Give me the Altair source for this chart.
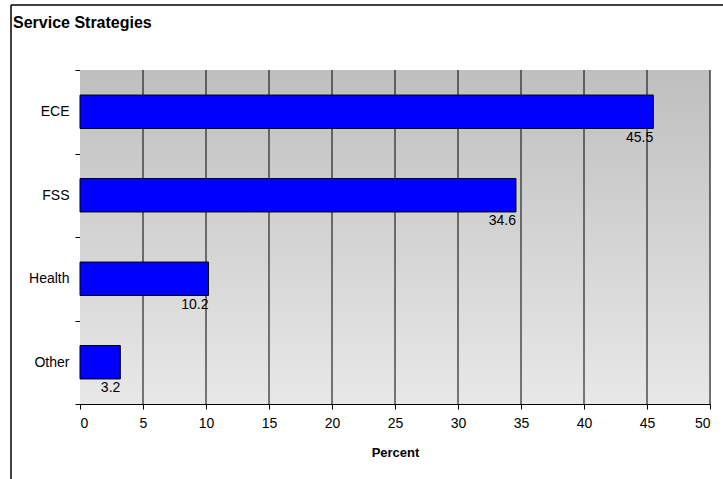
import altair as alt
import pandas as pd

categories = ["ECE", "FSS", "Health", "Other"]
values = [45.5, 34.6, 10.2, 3.2]
grid_values = [5, 10, 15, 20, 25, 30, 35, 40, 45, 50]
x_ticks = [0, 5, 10, 15, 20, 25, 30, 35, 40, 45, 50]
title_text = "Service Strategies"

W, H = 630, 334
FONT = "Liberation Sans"

df = pd.DataFrame({"cat": categories, "val": values})
grid_df = pd.DataFrame({"g": grid_values})

yenc = alt.Y("cat:N", sort=categories, title=None,
             scale=alt.Scale(paddingInner=0, paddingOuter=0),
             axis=alt.Axis(tickBand="extent", tickSize=5, tickColor="black",
                           domainColor="black", labelFontSize=14, labelColor="black",
                           labelPadding=6, labelFont=FONT, grid=False))
xenc = alt.X("val:Q", title="Percent",
             scale=alt.Scale(domain=[0, 50], nice=False),
             axis=alt.Axis(values=x_ticks, grid=False, tickSize=5, tickColor="black",
                           domainColor="black", labelFontSize=14, labelColor="black",
                           labelPadding=7, labelFont=FONT, titleFont=FONT,
                           titleFontSize=13, titleFontWeight="bold", titleColor="black",
                           titlePadding=16))

bg = alt.Chart(alt.Data(values=[{}])).mark_rect(
    fill=alt.Gradient(gradient="linear", x1=0, y1=0, x2=0, y2=1,
                      stops=[alt.GradientStop(color="#bfbfbf", offset=0),
                             alt.GradientStop(color="#e8e8e8", offset=1)])
).encode(x=alt.value(0), x2=alt.value(W), y=alt.value(0), y2=alt.value(H))

grid = alt.Chart(grid_df).mark_rule(color="#000000", strokeWidth=1).encode(
    x=alt.X("g:Q", scale=alt.Scale(domain=[0, 50], nice=False)),
    y=alt.value(0), y2=alt.value(H))

bars = alt.Chart(df).mark_bar(height={"band": 0.4}, fill="#0000ff",
                              stroke="black", strokeWidth=1).encode(x=xenc, y=yenc)

labels = alt.Chart(df).mark_text(align="right", baseline="top", dy=19,
                                 fontSize=14, font=FONT, color="black").encode(
    x="val:Q", y=alt.Y("cat:N", sort=categories), text=alt.Text("val:Q", format=".1f"))

title = alt.Chart(alt.Data(values=[{"t": title_text}])).mark_text(
    align="left", baseline="alphabetic", fontSize=16, fontWeight="bold",
    font=FONT, color="black").encode(
    x=alt.value(-67), y=alt.value(-42), text="t:N")

frame_v = alt.Chart(alt.Data(values=[{}])).mark_rule(color="black", strokeWidth=1.5).encode(
    x=alt.value(-69), y=alt.value(-65), y2=alt.value(H + 80))
frame_h = alt.Chart(alt.Data(values=[{}])).mark_rule(color="black", strokeWidth=1.5).encode(
    x=alt.value(-69), x2=alt.value(W + 20), y=alt.value(-65))

chart = alt.layer(bg, grid, bars, labels, title, frame_v, frame_h).properties(
    width=W, height=H,
    autosize=alt.AutoSizeParams(type="none"),
    padding={"left": 80, "top": 70, "right": 13, "bottom": 75},
).configure_view(stroke="#808080", strokeWidth=1).configure(background="white")

chart.save("out.html", embed_options={"renderer": "svg", "actions": False})
